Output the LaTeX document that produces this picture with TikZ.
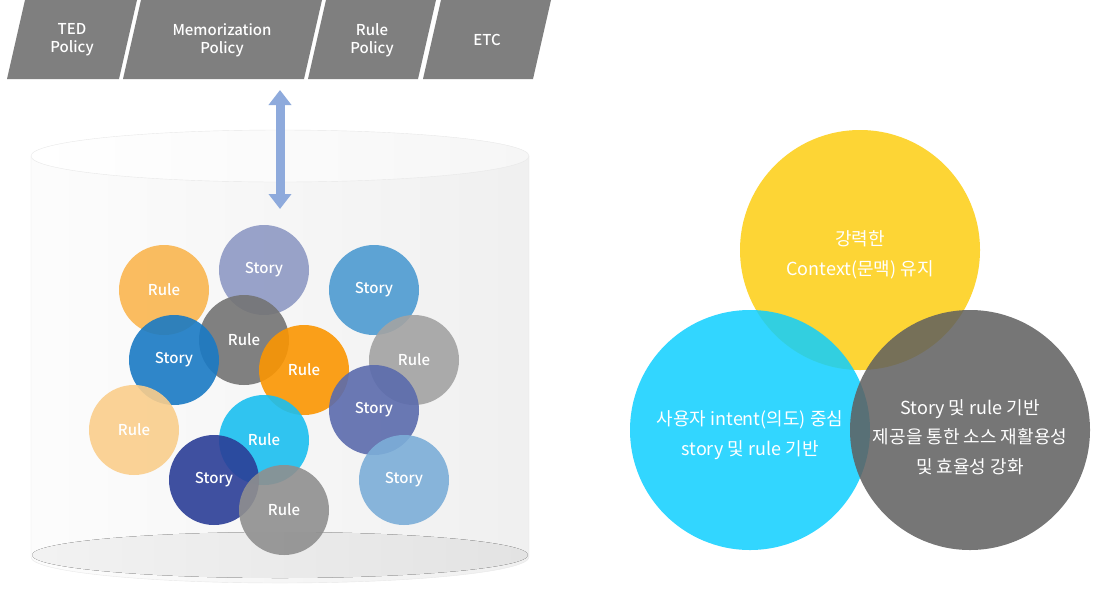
\documentclass[tikz,border=0pt]{standalone}
\usepackage{fontspec}
\setmainfont{Noto Sans CJK KR}
\newfontfamily\labelfont{Noto Sans CJK KR Medium}
\usetikzlibrary{arrows.meta}
\definecolor{tabgray}{HTML}{7F7F7F}
\definecolor{arrowblue}{HTML}{8EAADC}
\definecolor{rulepeach}{HTML}{FAB650}
\definecolor{storylilac}{HTML}{8E99C4}
\definecolor{storysky}{HTML}{4D9BD1}
\definecolor{ruledark}{HTML}{747474}
\definecolor{storyblue}{HTML}{1A7AC4}
\definecolor{ruleorange}{HTML}{FB9602}
\definecolor{rulelight}{HTML}{A3A3A3}
\definecolor{storyindigo}{HTML}{5B6BAD}
\definecolor{rulepale}{HTML}{FACE8C}
\definecolor{rulecyan}{HTML}{1BBFF0}
\definecolor{storynavy}{HTML}{2B3E97}
\definecolor{rulemid}{HTML}{8F8F8F}
\definecolor{storyice}{HTML}{7CAED8}
\definecolor{vennyellow}{HTML}{FDD535}
\definecolor{venncyan}{HTML}{0FCFFF}
\definecolor{venngray}{HTML}{5F5F5F}

\begin{document}
\begin{tikzpicture}[x=1pt,y=-1pt,
  tabtext/.style={text=white,align=center,font=\fontsize{15}{18}\labelfont},
  bubble/.style={circle,minimum size=90pt,inner sep=0pt,fill opacity=0.9,text opacity=1,text=white,font=\fontsize{15}{18}\labelfont},
  venntext/.style={text=white,align=center,font=\fontsize{18}{29.5}\selectfont}]
\useasboundingbox[fill=white] (0,0) rectangle (1110,590);

\foreach \bl/\br in {7/119,123/304,308/418,423/533}
  \fill[tabgray] (\bl,79) -- (\bl+18,0) -- (\br+18,0) -- (\br,79) -- cycle;
\node[tabtext] (ted) at (72,40) {TED\\Policy};
\node[tabtext] (memo) at (222,40) {Memorization\\Policy};
\node[tabtext] (rule) at (372,40) {Rule\\Policy};
\node[tabtext] (etc) at (487,40) {ETC};

\draw[gray!18,left color=gray!2,right color=gray!12] (31,156) -- (31,557) arc[start angle=180,end angle=0,x radius=249,y radius=26] -- (529,156) -- cycle;
\fill[left color=gray!10,right color=gray!22] (280,555) ellipse[x radius=248,y radius=23];
\draw[gray!18,left color=white,right color=gray!7] (280,156) ellipse[x radius=249,y radius=26];

\foreach \px/\py/\col/\txt/\nm in {164/290/rulepeach/Rule/r1, 264/270/storylilac/Story/s1,
    374/290/storysky/Story/s2, 244/340/ruledark/Rule/r2, 174/360/storyblue/Story/s3,
    304/370/ruleorange/Rule/r3, 414/360/rulelight/Rule/r4, 374/410/storyindigo/Story/s4,
    134/430/rulepale/Rule/r5, 264/440/rulecyan/Rule/r6, 214/480/storynavy/Story/s5,
    284/510/rulemid/Rule/r7, 404/480/storyice/Story/s6}
  \node[bubble,fill=\col] (\nm) at (\px,\py) {\txt};

\coordinate (armtop) at (280,90);
\coordinate (armbot) at (280,209);
\draw[arrowblue,line width=9pt,{Triangle[width=22pt,length=15pt]}-{Triangle[width=22pt,length=15pt]}] (armtop) -- (armbot);

\fill[vennyellow] (860,250) circle[radius=120];
\fill[venncyan,opacity=0.85] (750,430) circle[radius=120];
\fill[venngray,opacity=0.85] (970,430) circle[radius=120];
\node[venntext] (context) at (860,255) {강력한\\Context(문맥) 유지};
\node[venntext] (intent) at (750,435) {사용자 intent(의도) 중심\\story 및 rule 기반};
\node[venntext] (reuse) at (970,437) {Story 및 rule 기반\\제공을 통한 소스 재활용성\\및 효율성 강화};
\end{tikzpicture}
\end{document}
